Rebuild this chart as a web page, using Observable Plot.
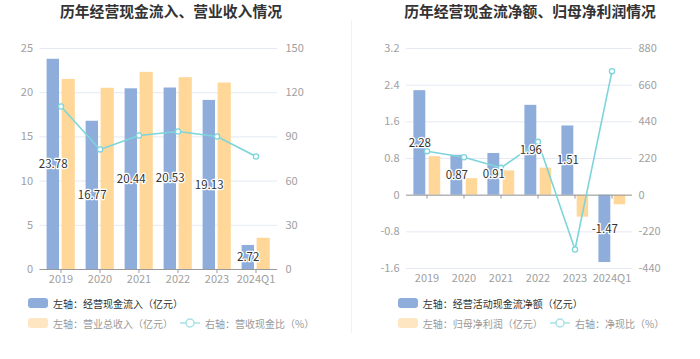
<!DOCTYPE html>
<html><head><meta charset="utf-8">
<script src="https://cdn.jsdelivr.net/npm/d3@7"></script>
<script src="https://cdn.jsdelivr.net/npm/@observablehq/plot@0.6"></script>
<style>
body{margin:0;background:#fff;font-family:"Noto Sans CJK SC","Noto Sans",sans-serif;}
#root{position:relative;width:700px;height:359px;overflow:hidden;background:#fff;}
.panel{position:absolute;top:0;width:350px;height:359px;}
.title{position:absolute;top:0;height:22px;line-height:22px;text-align:center;font-size:14.8px;font-weight:bold;color:#333;white-space:nowrap;}
.chart{position:absolute;top:20px;left:0;}
.leg{position:absolute;display:flex;align-items:center;font-size:10px;white-space:nowrap;height:12px;}
.sw{display:inline-block;width:20px;height:10px;border-radius:3px;margin-right:5px;}
.sep{position:absolute;left:351px;top:20px;width:1px;height:313px;background:#f2f2f2;}
</style>
</head><body>
<div id="root">
  <div class="panel" id="p1" style="left:0">
    <div class="title" style="left:0;width:342px">历年经营现金流入、营业收入情况</div>
    <div class="chart" id="c1"></div>
    <div class="leg" style="left:28px;top:297px;color:#333"><span class="sw" style="background:#8eaddb"></span>左轴：经营现金流入（亿元）</div>
    <div class="leg" style="left:28px;top:317px;color:#999"><span class="sw" style="background:#ffe6c2"></span>左轴：营业总收入（亿元）</div>
    <div class="leg" style="left:180px;top:317px;color:#999"><svg width="20" height="12" style="margin-right:5px"><line x1="0" x2="20" y1="6" y2="6" stroke="#a6e2e6" stroke-width="1.5"/><circle cx="10" cy="6" r="4" fill="#fff" stroke="#a6e2e6" stroke-width="1.5"/></svg>右轴：营收现金比（%）</div>
  </div>
  <div class="sep"></div>
  <div class="panel" id="p2" style="left:350px">
    <div class="title" style="left:0;width:360px">历年经营现金流净额、归母净利润情况</div>
    <div class="chart" id="c2"></div>
    <div class="leg" style="left:47.7px;top:297px;color:#333"><span class="sw" style="background:#8eaddb"></span>左轴：经营活动现金流净额（亿元）</div>
    <div class="leg" style="left:47.7px;top:317px;color:#999"><span class="sw" style="background:#ffe6c2"></span>左轴：归母净利润（亿元）</div>
    <div class="leg" style="left:200px;top:317px;color:#999"><svg width="20" height="12" style="margin-right:5px"><line x1="0" x2="20" y1="6" y2="6" stroke="#a6e2e6" stroke-width="1.5"/><circle cx="10" cy="6" r="4" fill="#fff" stroke="#a6e2e6" stroke-width="1.5"/></svg>右轴：净现比（%）</div>
  </div>
</div>
<script>
const categories = ["2019","2020","2021","2022","2023","2024Q1"];

// Left chart
const cashInflow = [23.78,16.77,20.44,20.53,19.13,2.72];
const revenue = [21.5,20.5,22.3,21.7,21.1,3.54];
const cashRevenueRatio = [110.6,81.5,91.0,93.7,90.3,76.7];
const leftTicksA = [0,5,10,15,20,25];
const rightTicksA = [0,30,60,90,120,150];

// Right chart
const netCash = [2.28,0.87,0.91,1.96,1.51,-1.47];
const netProfit = [0.84,0.36,0.53,0.59,-0.48,-0.21];
const netCashRatio = [264,228,164,320,-326,744];
const leftTicksB = [-1.6,-0.8,0,0.8,1.6,2.4,3.2];
const rightTicksB = [-440,-220,0,220,440,660,880];

const BLUE = "#8eaddb", ORANGE = "#ffd899", CYAN = "#7dd5db", TICK = "#9a9a9a";

function build(o) {
  const data = categories.map((c, i) => ({cat: c, a: o.a[i], b: o.b[i], r: o.r[i]}));
  const factor = o.rightTicks[o.rightTicks.length - 1] / o.leftTicks[o.leftTicks.length - 1];
  return Plot.plot({
    width: 350,
    height: 275,
    marginTop: 28,
    marginBottom: o.marginBottom,
    marginLeft: o.marginLeft,
    marginRight: o.marginRight,
    style: {fontFamily: '"Noto Sans CJK SC","Noto Sans",sans-serif', fontSize: "11px", background: "transparent", overflow: "visible"},
    x: {type: "band", domain: categories, padding: 0},
    y: {domain: [o.leftTicks[0], o.leftTicks[o.leftTicks.length - 1]]},
    marks: [
      Plot.gridY(o.leftTicks, {stroke: "#e4e9f3", strokeOpacity: 1}),
      Plot.axisY(o.leftTicks, {anchor: "left", tickSize: 0, tickPadding: o.padL, fill: "#a0a0a0", fontSize: 11, label: null, tickFormat: d => String(d)}),
      Plot.axisY(o.rightTicks.map(t => t / factor), {anchor: "right", tickSize: 0, tickPadding: o.padR, fill: "#a0a0a0", fontSize: 11, label: null, tickFormat: d => String(Math.round(d * factor))}),
      Plot.axisX({anchor: "bottom", tickSize: 0, tickPadding: 6, fill: "#a0a0a0", fontSize: 11, label: null}),
      Plot.barY(data, {x: "cat", y1: 0, y2: "a", fill: BLUE, insetLeft: o.in1[0], insetRight: o.in1[1]}),
      Plot.barY(data, {x: "cat", y1: 0, y2: "b", fill: ORANGE, insetLeft: o.in2[0], insetRight: o.in2[1]}),
      Plot.ruleY([0], {stroke: TICK, strokeWidth: 1}),
      Plot.ruleX(categories, {x: d => d, y1: 0, y2: 0, insetBottom: -4, stroke: TICK}),
      Plot.line(data, {x: "cat", y: d => d.r / factor, stroke: CYAN, strokeWidth: 1.6}),
      Plot.dot(data, {x: "cat", y: d => d.r / factor, r: 2.6, fill: "white", stroke: CYAN, strokeWidth: 1.3}),
      Plot.text(data, {x: "cat", y: d => d.a / 2, text: d => d.a.toFixed(2), dx: o.labelDx, fill: "#333", stroke: "white", strokeWidth: 2.5, fontSize: 11.5})
    ]
  });
}

document.getElementById("c1").appendChild(build({
  a: cashInflow, b: revenue, r: cashRevenueRatio,
  leftTicks: leftTicksA, rightTicks: rightTicksA,
  marginLeft: 39.5, marginRight: 73, marginBottom: 26,
  padL: 7, padR: 8,
  in1: [5.6, 21], in2: [20.6, 5.2], labelDx: -7.8
}));

document.getElementById("c2").appendChild(build({
  a: netCash, b: netProfit, r: netCashRatio,
  leftTicks: leftTicksB, rightTicks: rightTicksB,
  marginLeft: 56, marginRight: 68, marginBottom: 27,
  padL: 7, padR: 6,
  in1: [5.4, 19.7], in2: [20.7, 4.8], labelDx: -7.2
}));
</script>
</body></html>
